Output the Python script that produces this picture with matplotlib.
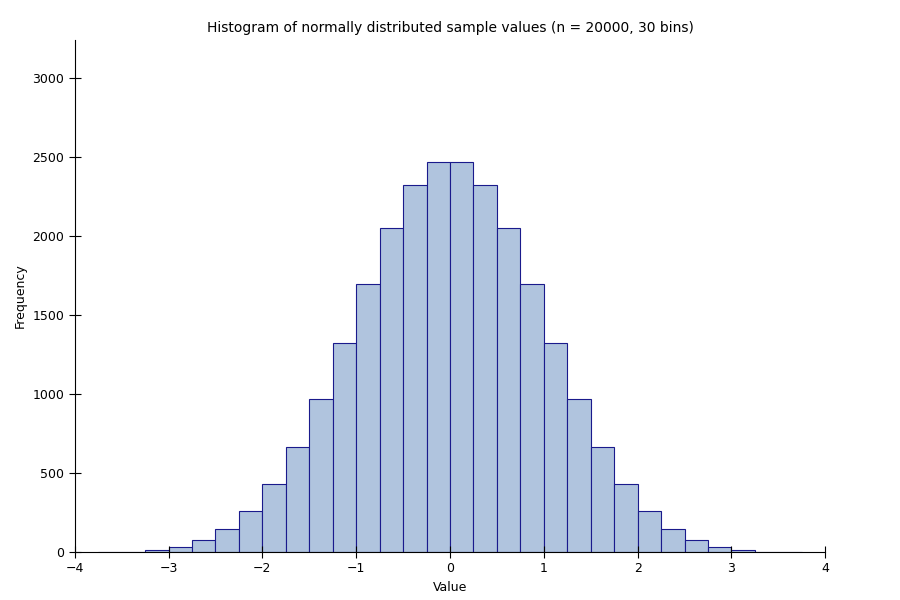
import matplotlib
matplotlib.use("Agg")
import matplotlib.pyplot as plt

bin_left_edges = [-3.75 + 0.25 * i for i in range(30)]
counts = [1, 3, 13, 32, 76, 146, 259, 430, 665, 968, 1323, 1696, 2051, 2323, 2468,
          2468, 2323, 2051, 1696, 1323, 968, 665, 430, 259, 146, 76, 32, 13, 3, 1]
x_ticks = [-4, -3, -2, -1, 0, 1, 2, 3, 4]
y_ticks = [0, 500, 1000, 1500, 2000, 2500, 3000]

fig = plt.figure(figsize=(9, 6), dpi=100)
ax = fig.add_axes([0.083, 0.08, 0.834, 0.853])
ax.bar(bin_left_edges, counts, width=0.25, align='edge',
       color='#b0c4de', edgecolor='#1a1a8c', linewidth=0.8)
ax.set_xlim(-4, 4)
ax.set_ylim(0, 3240)
ax.set_xticks(x_ticks)
ax.set_yticks(y_ticks)
ax.spines['top'].set_visible(False)
ax.spines['right'].set_visible(False)
ax.tick_params(direction='inout', length=8, labelsize=9)
ax.set_xlabel('Value', fontsize=9)
ax.set_ylabel('Frequency', fontsize=9)
ax.set_title('Histogram of normally distributed sample values (n = 20000, 30 bins)', fontsize=10)
fig.savefig('out.png', dpi=100)
